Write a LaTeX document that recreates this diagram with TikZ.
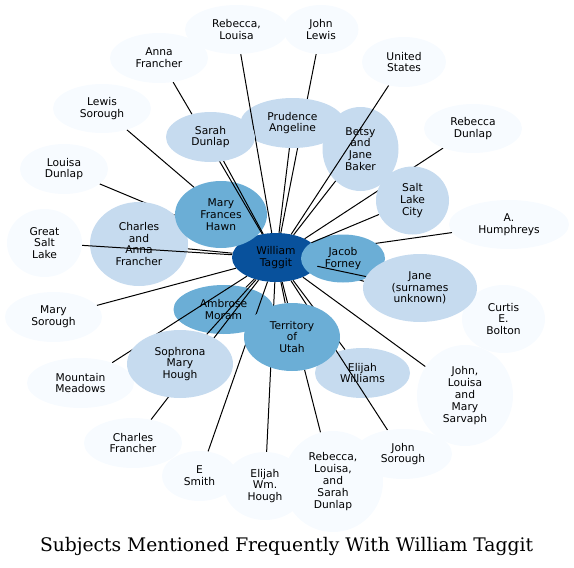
\documentclass[tikz,border=0pt]{standalone}
\usepackage{fontspec}
\newfontfamily\subjfont{DejaVu Sans}
\newfontfamily\titlefont{DejaVu Serif}
\usetikzlibrary{shapes.geometric}
\pgfdeclarelayer{deep}
\pgfdeclarelayer{back}
\pgfdeclarelayer{links}
\pgfsetlayers{deep,back,links,main}
\definecolor{blueA}{HTML}{F7FBFF}
\definecolor{blueB}{HTML}{C6DBEF}
\definecolor{blueC}{HTML}{6BAED6}
\definecolor{blueD}{HTML}{08519C}
\begin{document}
\begin{tikzpicture}[x=1pt,y=-1pt,
		subj/.style={ellipse,inner sep=0pt,align=center,text=black,
			font=\subjfont\fontsize{10.7}{11.8}\selectfont},
		rare/.style={subj,fill=blueA},
		some/.style={subj,fill=blueB},
		often/.style={subj,fill=blueC},
		most/.style={subj,fill=blueD},
		wh/.style 2 args={minimum width=#1,minimum height=#2},
		link/.style={draw=black,line width=1pt}]
			\useasboundingbox (0,0) rectangle (574,568);
			
			% nodes the lines run over
			\begin{pgfonlayer}{back}
				\node[most,wh={88}{49}] (WT) at (276,257.5) {William\\Taggit};
				\node[often,wh={84}{48}] (JF) at (343,258.5) {Jacob\\Forney};
				\node[some,wh={104}{50}] (PA) at (292.5,123) {Prudence\\Angeline};
				\node[some,wh={76}{84}] (BJB) at (360.5,149) {Betsy\\and\\Jane\\Baker};
				\node[some,wh={98}{84}] (CAF) at (139,244) {Charles\\and\\Anna\\Francher};
				\node[often,wh={92}{67}] (MFH) at (221,214.5) {Mary\\Frances\\Hawn};
				\node[often,wh={100}{49}] (AM) at (223.5,309.5) {Ambrose\\Moram};
				\node[some,wh={95}{50}] (EW) at (362.5,373) {Elijah\\Williams};
			\end{pgfonlayer}
			
			% outer ring
			\node[rare,wh={103}{49}] (RL) at (236.5,29.5) {Rebecca,\\Louisa};
			\node[rare,wh={75}{49}] (JL) at (321,29.5) {John\\Lewis};
			\node[rare,wh={98}{50}] (AF) at (159,58) {Anna\\Francher};
			\node[rare,wh={84}{50}] (US) at (404,62) {United\\States};
			\node[rare,wh={98}{49}] (RD) at (473,128.5) {Rebecca\\Dunlap};
			\node[rare,wh={98}{49}] (LS) at (102,108.5) {Lewis\\Sorough};
			\node[rare,wh={88}{50}] (LD) at (64,169) {Louisa\\Dunlap};
			\node[rare,wh={120}{49}] (AH) at (509,224.5) {A.\\Humphreys};
			\node[rare,wh={75}{68}] (GSL) at (44.5,243) {Great\\Salt\\Lake};
			\node[rare,wh={83}{68}] (CEB) at (503.5,319) {Curtis\\E.\\Bolton};
			\node[rare,wh={97}{50}] (MS) at (53.5,317) {Mary\\Sorough};
			\node[rare,wh={107}{50}] (MM) at (80.5,383) {Mountain\\Meadows};
			\node[rare,wh={96}{101}] (JLMS) at (465,395.5) {John,\\Louisa\\and\\Mary\\Sarvaph};
			\node[rare,wh={98}{50}] (CF) at (133,443) {Charles\\Francher};
			\node[rare,wh={75}{50}] (ES) at (199.5,476) {E\\Smith};
			\node[rare,wh={82}{68}] (EWH) at (265,486) {Elijah\\Wm.\\Hough};
			\node[rare,wh={98}{50}] (JS) at (403,454) {John\\Sorough};
			\node[rare,wh={100}{101}] (RLSD) at (333,481.5) {Rebecca,\\Louisa,\\and\\Sarah\\Dunlap};
			
			% nodes over the lines
			\node[some,wh={89}{50}] (SD) at (210.5,137) {Sarah\\Dunlap};
			\node[some,wh={73}{68}] (SLC) at (412.5,200.5) {Salt\\Lake\\City};
			\node[some,wh={114}{68}] (JSU) at (420,288) {Jane\\(surnames\\unknown)};
			\node[some,wh={106}{68}] (SMH) at (180,364) {Sophrona\\Mary\\Hough};
			\node[often,wh={96}{68}] (TU) at (292,337) {Territory\\of\\Utah};
			
			\node[anchor=base,font=\titlefont\fontsize{18.7}{22}\selectfont] (title) at (286.5,551.7) {Subjects Mentioned Frequently With William Taggit};
			
			% lines hidden under the back nodes
			\begin{pgfonlayer}{deep}
				\draw[link] (WT) -- (JL);
				\draw[link] (WT) -- (AH);
				\draw[link] (WT) -- (CEB);
				\draw[link] (WT) -- (JF);
				\draw[link] (WT) -- (MFH);
				\draw[link] (WT) -- (LS);
				\draw[link] (WT) -- (LD);
			\end{pgfonlayer}
			
			\begin{pgfonlayer}{links}
				\draw[link] (WT) -- (RL);
				\draw[link] (WT) -- (AF);
				\draw[link] (WT) -- (US);
				\draw[link] (WT) -- (PA);
				\draw[link] (WT) -- (BJB);
				\draw[link] (WT) -- (RD);
				\draw[link] (WT) -- (SD);
				\draw[link] (WT) -- (SLC);
				\draw[link] (WT) -- (GSL);
				\draw[link] (WT) -- (CAF);
				\draw[link] (WT) -- (JSU);
				\draw[link] (WT) -- (MS);
				\draw[link] (WT) -- (AM);
				\draw[link] (WT) -- (TU);
				\draw[link] (WT) -- (SMH);
				\draw[link] (WT) -- (MM);
				\draw[link] (WT) -- (EW);
				\draw[link] (WT) -- (JLMS);
				\draw[link] (WT) -- (CF);
				\draw[link] (WT) -- (ES);
				\draw[link] (WT) -- (EWH);
				\draw[link] (WT) -- (RLSD);
				\draw[link] (WT) -- (JS);
			\end{pgfonlayer}
		\end{tikzpicture}
\end{document}
